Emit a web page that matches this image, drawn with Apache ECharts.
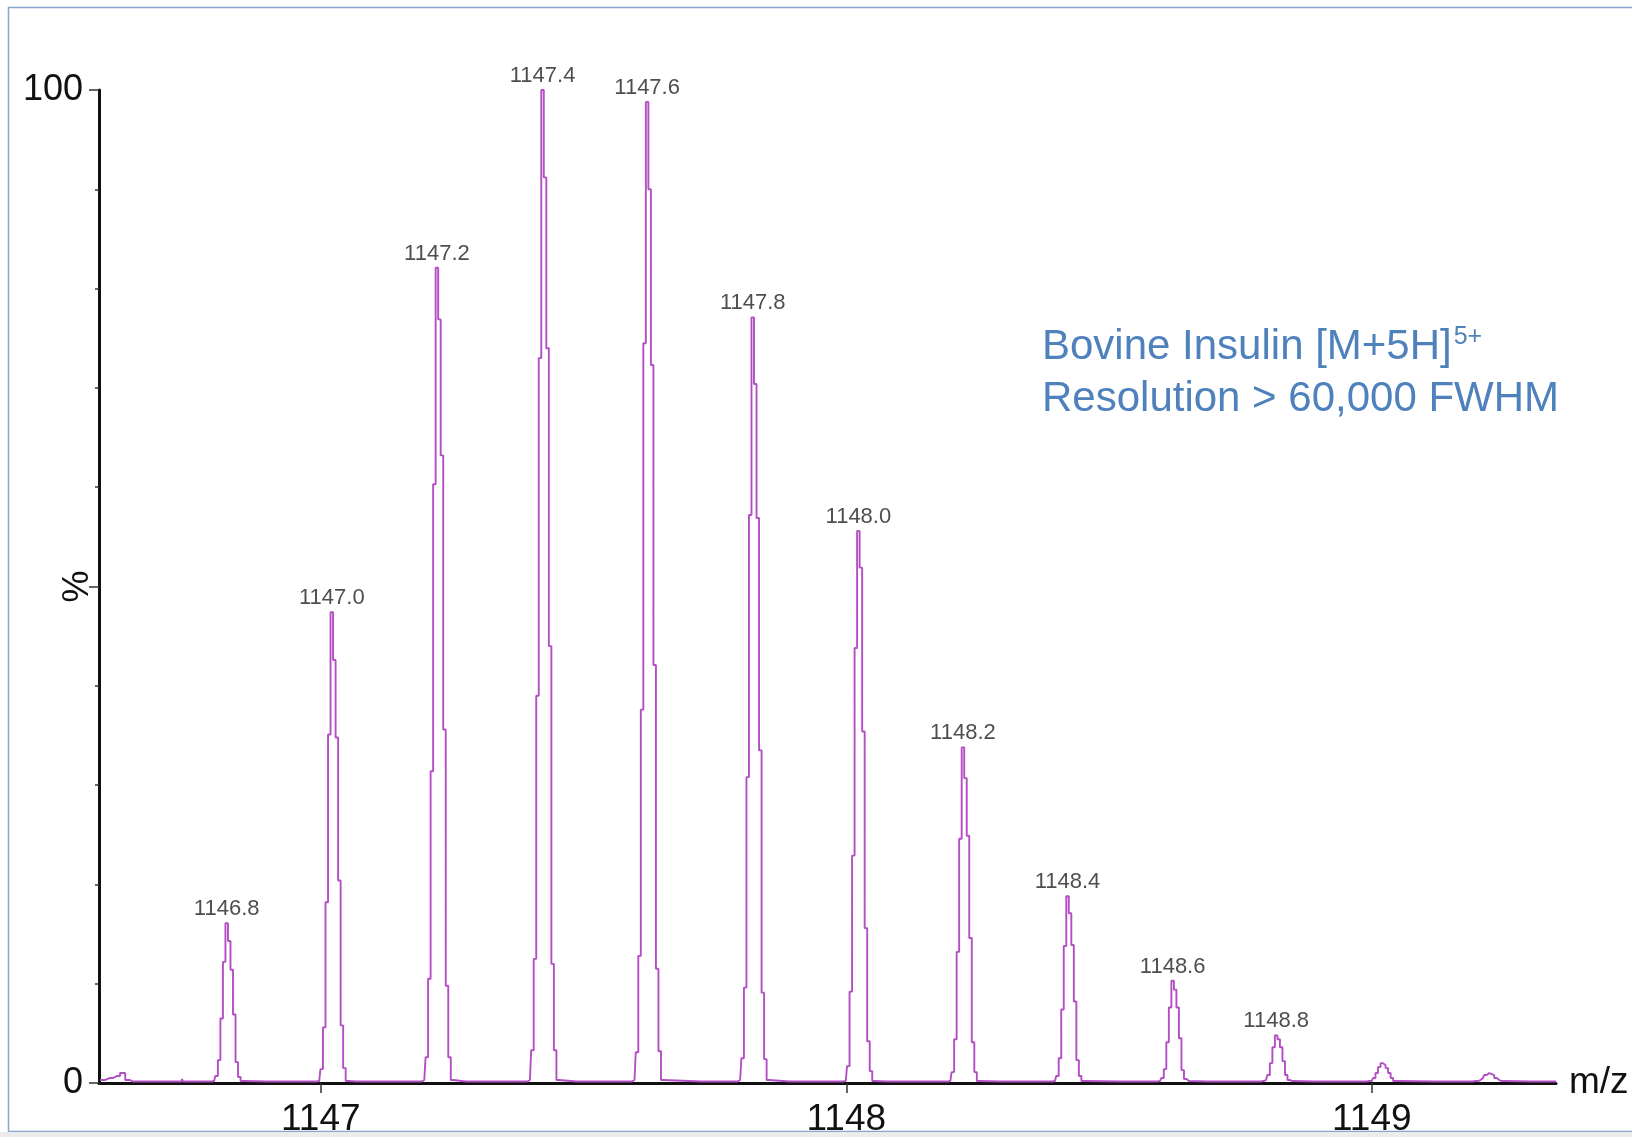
<!DOCTYPE html>
<html><head><meta charset="utf-8">
<script src="https://cdn.jsdelivr.net/npm/echarts@6/dist/echarts.min.js"></script>
<style>html,body{margin:0;padding:0;background:#fff}#c{width:1632px;height:1137px}</style>
</head><body><div id="c"></div>
<script>
// ---- data ----
const xTicks = [1147, 1148, 1149];
const yLabelTicks = [0, 100];
const xMin = 1146.578, xMax = 1149.3505;
const baseline = 0.15;
const sampleStep = 0.0048;   // profile sampling step (m/z)
const apexIndex = 5;
const peakCenters = [1146.821, 1147.021, 1147.221, 1147.422, 1147.621, 1147.822, 1148.023, 1148.222, 1148.421, 1148.621, 1148.818, 1149.019, 1149.221];
const peakLabels = ['1146.8', '1147.0', '1147.2', '1147.4', '1147.6', '1147.8', '1148.0', '1148.2', '1148.4', '1148.6', '1148.8', '', ''];
const peak_1146_8 = [0.2, 0.7, 2.3, 6.5, 12.2, 16.1, 14.3, 11.4, 6.9, 2.1, 0.6, 0.2];
const peak_1147_0 = [0.2, 1.4, 5.6, 18.2, 35.1, 47.4, 42.6, 34.8, 20.4, 5.8, 1.5, 0.2];
const peak_1147_2 = [0.3, 2.6, 10.5, 31.4, 60.3, 82.1, 76.9, 63.2, 35.6, 9.8, 2.6, 0.3];
const peak_1147_4 = [0.3, 3.3, 12.5, 39.0, 73.0, 100.0, 91.2, 74.0, 44.0, 12.0, 3.3, 0.3];
const peak_1147_6 = [0.3, 3.1, 12.8, 37.6, 74.5, 98.8, 90.0, 72.3, 42.1, 11.5, 3.2, 0.3];
const peak_1147_8 = [0.3, 2.5, 9.6, 30.8, 57.2, 77.1, 70.4, 56.9, 33.5, 9.1, 2.4, 0.3];
const peak_1148_0 = [0.2, 1.7, 9.2, 22.9, 43.8, 55.6, 51.9, 35.4, 15.6, 4.2, 1.2, 0.2];
const peak_1148_2 = [0.2, 1.1, 4.4, 13.2, 24.6, 33.8, 30.7, 24.9, 14.6, 4.1, 1.1, 0.2];
const peak_1148_4 = [0.2, 0.7, 2.5, 7.4, 13.8, 18.8, 17.1, 13.9, 8.2, 2.3, 0.7, 0.2];
const peak_1148_6 = [0.2, 0.5, 1.4, 4.1, 7.6, 10.3, 9.4, 7.6, 4.5, 1.3, 0.4, 0.2];
const peak_1148_8 = [0.2, 0.3, 0.8, 2.0, 3.6, 4.8, 4.4, 3.6, 2.2, 0.8, 0.3, 0.2];
const peak_1149_0 = [0.2, 0.2, 0.5, 1.0, 1.6, 2.0, 1.8, 1.5, 1.0, 0.5, 0.2, 0.2];
const peak_1149_2 = [0.2, 0.2, 0.3, 0.5, 0.8, 1.0, 0.9, 0.8, 0.5, 0.3, 0.2, 0.2];
const startBumpX = [1146.580, 1146.598, 1146.612, 1146.624, 1146.632, 1146.642];
const startBumpY = [0.3, 0.5, 0.7, 1.0, 0.3, 0.15];
const noiseX = [1146.737, 1146.944, 1147.084, 1147.155, 1147.300, 1147.520, 1147.930, 1148.100, 1148.330, 1148.720, 1148.930];
const noiseY = [0.4, 0.3, 0.35, 0.3, 0.35, 0.3, 0.3, 0.3, 0.35, 0.3, 0.3];
const titleMain = 'Bovine Insulin [M+5H]';
const titleSup = '5+';
const titleLine2 = 'Resolution > 60,000 FWHM';

const peaks = [peak_1146_8, peak_1147_0, peak_1147_2, peak_1147_4, peak_1147_6, peak_1147_8,
  peak_1148_0, peak_1148_2, peak_1148_4, peak_1148_6, peak_1148_8, peak_1149_0, peak_1149_2];

// ---- build series data ----
const data = [];
startBumpX.forEach((x, i) => data.push([x, startBumpY[i]]));
noiseX.forEach((x, i) => { data.push([x - 0.002, baseline]); data.push([x, noiseY[i]]); data.push([x + 0.002, baseline]); });
peaks.forEach((p, k) => {
  const c = peakCenters[k];
  data.push([c - (apexIndex + 1) * sampleStep, baseline]);
  p.forEach((v, i) => data.push([c + (i - apexIndex) * sampleStep, v]));
  data.push([c + (p.length - apexIndex) * sampleStep, baseline]);
});
data.push([xMax, baseline]);
data.sort((a, b) => a[0] - b[0]);

const labelData = [];
peaks.forEach((p, k) => { if (peakLabels[k]) labelData.push({ value: [peakCenters[k], Math.max(...p)], name: peakLabels[k] }); });

const FONT = 'Liberation Sans, Arial, Helvetica, sans-serif';
const mainFont = '42px ' + FONT;
const ctx = document.createElement('canvas').getContext('2d');
ctx.font = mainFont;
const mainW = ctx.measureText(titleMain).width;
const textX = 1042;

const chart = echarts.init(document.getElementById('c'), null, { renderer: 'canvas' });
chart.setOption({
  backgroundColor: '#ffffff',
  animation: false,
  grid: { left: 99, right: 76, top: 90, bottom: 54, containLabel: false, outerBoundsMode: 'none' },
  xAxis: {
    type: 'value', min: xMin, max: xMax,
    name: 'm/z', nameLocation: 'end', nameGap: 13,
    nameTextStyle: { fontFamily: FONT, fontSize: 37, color: '#111', padding: [14, 0, 0, 0] },
    axisLine: { show: true, onZero: false, lineStyle: { color: '#111', width: 3 } },
    axisTick: { show: true, length: 10, customValues: xTicks, lineStyle: { color: '#333', width: 1.5 } },
    axisLabel: { show: true, customValues: xTicks, margin: 18, fontFamily: FONT, fontSize: 37, color: '#111', formatter: v => String(v) },
    splitLine: { show: false }
  },
  yAxis: [{
    type: 'value', min: 0, max: 100, interval: 10, position: 'left',
    axisLine: { show: true, lineStyle: { color: '#111', width: 3 } },
    axisTick: { show: true, length: 4, lineStyle: { color: '#333', width: 1.5 } },
    axisLabel: { show: true, margin: 16, fontFamily: FONT, fontSize: 36, color: '#111',
      formatter: v => (yLabelTicks.indexOf(v) >= 0 ? String(v) : '') },
    splitLine: { show: false }
  }, {
    type: 'value', min: 0, max: 100, interval: 50, position: 'left',
    name: '%', nameLocation: 'middle', nameRotate: 90, nameGap: 3,
    nameTextStyle: { fontFamily: FONT, fontSize: 36, color: '#111' },
    axisLine: { show: false },
    axisTick: { show: true, length: 10, lineStyle: { color: '#333', width: 1.5 } },
    axisLabel: { show: false },
    splitLine: { show: false }
  }],
  series: [{
    type: 'line', data: data, step: 'middle', showSymbol: false, symbol: 'none',
    lineStyle: { color: '#b44ec4', width: 1.9 }, z: 3
  }, {
    type: 'scatter', data: labelData, symbolSize: 0, z: 4,
    label: { show: true, position: 'top', distance: 3, formatter: p => p.name,
      fontFamily: FONT, fontSize: 22, color: '#222' }
  }],
  graphic: [
    { type: 'rect', shape: { x: 8.5, y: 7.5, width: 1640, height: 1124 }, style: { fill: 'none', stroke: '#8aa6d0', lineWidth: 1.5 }, z: 10, silent: true },
    { type: 'rect', shape: { x: 0, y: 1132, width: 1632, height: 5 }, style: { fill: '#ececec' }, z: 10, silent: true },
    { type: 'text', x: textX, y: 347, style: { text: titleMain, font: mainFont, fill: '#4f81bd', align: 'left', verticalAlign: 'middle' }, z: 10 },
    { type: 'text', x: textX + mainW + 2, y: 337, style: { text: titleSup, font: '25px ' + FONT, fill: '#4f81bd', align: 'left', verticalAlign: 'middle' }, z: 10 },
    { type: 'text', x: textX, y: 399, style: { text: titleLine2, font: mainFont, fill: '#4f81bd', align: 'left', verticalAlign: 'middle' }, z: 10 }
  ]
});
</script>
</body></html>
